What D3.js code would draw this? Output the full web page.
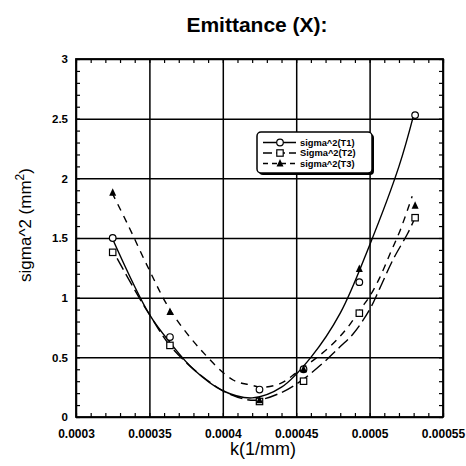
<!DOCTYPE html>
<html><head><meta charset="utf-8">
<script src="https://cdn.jsdelivr.net/npm/d3@7"></script>
<style>body{margin:0;background:#fff}</style>
</head><body>
<svg id="c" width="466" height="466"></svg>
<script>
// ---- data ----
const kValues  = [0.000325, 0.000364, 0.000425, 0.000455, 0.000493, 0.000531];
const t1Values = [1.50, 0.67, 0.23, 0.40, 1.13, 2.53];
const t2Values = [1.38, 0.60, 0.13, 0.30, 0.87, 1.67];
const t3Values = [1.88, 0.88, 0.14, 0.40, 1.24, 1.77];

// fitted curves
const t1FitK = [0.000325,0.00035,0.000365,0.00038,0.0004,0.00042,0.00044,0.00046,0.00048,0.0005,0.00052,0.00053];
const t1FitY = [1.49,0.86,0.61,0.40,0.22,0.16,0.25,0.50,0.87,1.44,2.10,2.53];
const t2FitK = [0.000328,0.000343,0.00035,0.000364,0.000385,0.000405,0.000422,0.000439,0.000453,0.000468,0.00048,0.000489,0.0005,0.000507,0.000516,0.000526,0.000531];
const t2FitY = [1.33,1.00,0.86,0.60,0.35,0.19,0.14,0.20,0.30,0.45,0.59,0.70,0.90,1.08,1.32,1.54,1.67];
const t3FitK = [0.0003245,0.000335,0.00035,0.000364,0.0003845,0.000407,0.0004185,0.000427,0.000439,0.00045,0.000473,0.000485,0.0004935,0.0005,0.000507,0.000514,0.000521,0.000529];
const t3FitY = [1.88,1.62,1.23,0.90,0.57,0.31,0.27,0.25,0.28,0.37,0.59,0.75,0.90,1.01,1.17,1.37,1.57,1.85];

const xTicks = [0.0003,0.00035,0.0004,0.00045,0.0005,0.00055];
const xTickLabels = ["0.0003","0.00035","0.0004","0.00045","0.0005","0.00055"];
const yTicks = [0,0.5,1,1.5,2,2.5,3];
const yTickLabels = ["0","0.5","1","1.5","2","2.5","3"];
const legendLabels = ["sigma^2(T1)","Sigma^2(T2)","sigma^2(T3)"];
const titleText = "Emittance (X):";
const xLabel = "k(1/mm)";

// ---- layout ----
const L=76, R=443, T=59, B=417;
const svg = d3.select("#c");
const x = d3.scaleLinear().domain([0.0003,0.00055]).range([L,R]);
const y = d3.scaleLinear().domain([0,3]).range([B,T]);
const font = "'Liberation Sans', Arial, Helvetica, sans-serif";

// title
svg.append("text").attr("x",257).attr("y",32).attr("text-anchor","middle")
  .attr("font-family",font).attr("font-weight","bold").attr("font-size",21).text(titleText);

// grid
const g = svg.append("g");
g.append("g").attr("transform",`translate(0,${B})`)
  .call(d3.axisBottom(x).tickValues(xTicks).tickSize(-(B-T)).tickFormat(""))
  .call(s=>s.select(".domain").remove())
  .selectAll("line").attr("stroke","#000").attr("stroke-width",1.5);
g.append("g").attr("transform",`translate(${L},0)`)
  .call(d3.axisLeft(y).tickValues(yTicks).tickSize(-(R-L)).tickFormat(""))
  .call(s=>s.select(".domain").remove())
  .selectAll("line").attr("stroke","#000").attr("stroke-width",1.5);

// minor ticks (inward) on all four sides
const xm = x.ticks(25), ym = y.ticks(30);
function minor(axis, tr){
  g.append("g").attr("transform",tr).call(axis)
   .call(s=>s.select(".domain").remove())
   .selectAll("line").attr("stroke","#000").attr("stroke-width",1.2);
}
minor(d3.axisBottom(x).tickValues(xm).tickSize(-4).tickFormat(""), `translate(0,${B})`);
minor(d3.axisTop(x).tickValues(xm).tickSize(-4).tickFormat(""), `translate(0,${T})`);
minor(d3.axisLeft(y).tickValues(ym).tickSize(-4).tickFormat(""), `translate(${L},0)`);
minor(d3.axisRight(y).tickValues(ym).tickSize(-4).tickFormat(""), `translate(${R},0)`);

// frame
svg.append("rect").attr("x",L).attr("y",T).attr("width",R-L).attr("height",B-T)
  .attr("fill","none").attr("stroke","#000").attr("stroke-width",1.8);

// tick labels
const xa = svg.append("g").attr("transform",`translate(0,${B})`)
  .call(d3.axisBottom(x).tickValues(xTicks).tickSize(0).tickPadding(12).tickFormat((d,i)=>xTickLabels[i]));
xa.select(".domain").remove();
xa.selectAll("text").attr("font-family",font).attr("font-weight","bold").attr("font-size",12).attr("fill","#000");
const ya = svg.append("g").attr("transform",`translate(${L},0)`)
  .call(d3.axisLeft(y).tickValues(yTicks).tickSize(0).tickPadding(8).tickFormat((d,i)=>yTickLabels[i]));
ya.select(".domain").remove();
ya.selectAll("text").attr("font-family",font).attr("font-weight","bold").attr("font-size",11.5).attr("fill","#000");

// axis titles
svg.append("text").attr("x",263).attr("y",455).attr("text-anchor","middle")
  .attr("font-family",font).attr("font-size",18).text(xLabel);
const yl = svg.append("text").attr("transform","translate(31,225) rotate(-90)").attr("text-anchor","middle")
  .attr("font-family",font).attr("font-size",17);
yl.append("tspan").text("sigma^2 (mm");
yl.append("tspan").attr("dy",-7).attr("font-size",12).text("2");
yl.append("tspan").attr("dy",7).text(")");

// curves
const line = d3.line().x(d=>x(d[0])).y(d=>y(d[1])).curve(d3.curveCatmullRom.alpha(0.5));
const dashes = [null, "13,5", "7,6"];
const fits = [
  {k:t1FitK, v:t1FitY},
  {k:t2FitK, v:t2FitY},
  {k:t3FitK, v:t3FitY}
];
fits.forEach((f,i)=>{
  svg.append("path").datum(f.k.map((k,j)=>[k,f.v[j]]))
    .attr("d",line).attr("fill","none").attr("stroke","#000").attr("stroke-width",1.4)
    .attr("stroke-dasharray",dashes[i]);
});

// markers
function marker(sel, type, cx, cy){
  if(type===0) sel.append("circle").attr("cx",cx).attr("cy",cy).attr("r",3.3)
      .attr("fill","#fff").attr("stroke","#000").attr("stroke-width",1.2);
  else if(type===1) sel.append("rect").attr("x",cx-3.2).attr("y",cy-3.2).attr("width",6.4).attr("height",6.4)
      .attr("fill","#fff").attr("stroke","#000").attr("stroke-width",1.2);
  else sel.append("path").attr("d",`M${cx},${cy-4.5}L${cx+3.5},${cy+3}L${cx-3.5},${cy+3}Z`)
      .attr("fill","#000");
}
const mk = svg.append("g");
[t1Values,t2Values,t3Values].forEach((vals,s)=>{
  vals.forEach((v,i)=>marker(mk, s, x(kValues[i]), y(v)));
});

// legend
const lg = svg.append("g");
lg.append("rect").attr("x",259).attr("y",134).attr("width",115).attr("height",41).attr("rx",4)
  .attr("fill","#000");
lg.append("rect").attr("x",257).attr("y",132).attr("width",115).attr("height",41).attr("rx",4)
  .attr("fill","#fff").attr("stroke","#000").attr("stroke-width",1.5);
const rowY = [142.5,153,163.5];
legendLabels.forEach((lab,i)=>{
  lg.append("line").attr("x1",263).attr("x2",296).attr("y1",rowY[i]).attr("y2",rowY[i])
    .attr("stroke","#000").attr("stroke-width",1.4).attr("stroke-dasharray",dashes[i] ? (i===1?"9,4":"5,4") : null);
  marker(lg, i, 280, rowY[i]);
  lg.append("text").attr("x",300).attr("y",rowY[i]+3.3).attr("font-family",font)
    .attr("font-weight","bold").attr("font-size",9.3).text(lab);
});
</script>
</body></html>
